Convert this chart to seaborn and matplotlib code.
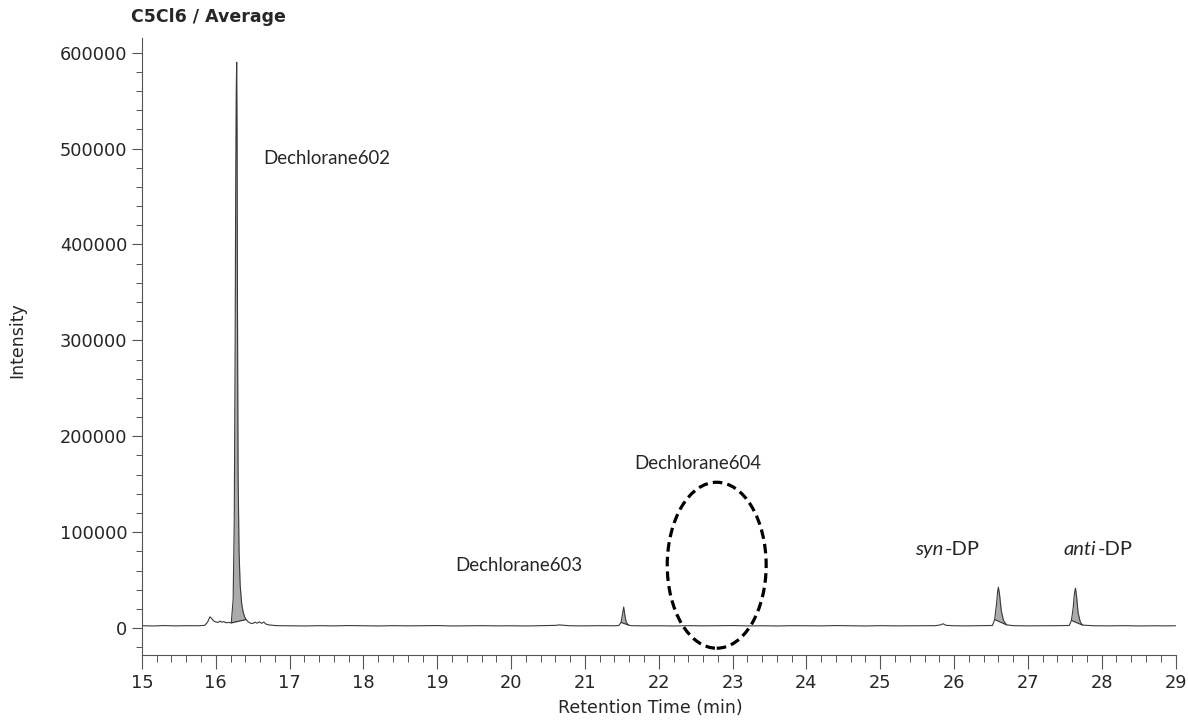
"""
Chromatogram of C5Cl6 (average) - dechloranes and DP isomers
"""

import numpy as np
import pandas as pd
import matplotlib
matplotlib.use("Agg")
import matplotlib.pyplot as plt
from matplotlib.patches import Ellipse
from matplotlib.ticker import MultipleLocator
import seaborn as sns

# Trace (retention time in min, intensity)
rt = [15.00, 15.15, 15.30, 15.45, 15.60, 15.75, 15.85, 15.89, 15.92, 15.94,
      15.97, 16.00, 16.03, 16.06, 16.08, 16.11, 16.14, 16.17, 16.19, 16.21,
      16.235, 16.25, 16.262, 16.270, 16.277, 16.283, 16.288, 16.294, 16.302, 16.315,
      16.33, 16.35, 16.37, 16.39, 16.41,
      16.44, 16.47, 16.50, 16.53, 16.56, 16.59, 16.62, 16.65, 16.68, 16.72,
      16.78, 16.85, 17.00, 17.20, 17.40, 17.60, 17.80, 18.00, 18.20, 18.40,
      18.60, 18.80, 19.00, 19.20, 19.40, 19.60, 19.80, 20.00, 20.20, 20.40,
      20.60, 20.65, 20.80, 21.00, 21.20, 21.40, 21.46,
      21.49, 21.51, 21.525, 21.54, 21.56, 21.59,
      21.63, 21.80, 22.00, 22.20, 22.40, 22.60, 22.80, 23.00, 23.20, 23.40,
      23.60, 23.80, 24.00, 24.20, 24.40, 24.60, 24.80, 25.00, 25.20, 25.40,
      25.60, 25.75, 25.82, 25.85, 25.89, 26.00, 26.20, 26.40, 26.52,
      26.55, 26.575, 26.59, 26.60, 26.615, 26.64, 26.67, 26.71,
      26.80, 27.00, 27.20, 27.40, 27.56,
      27.59, 27.615, 27.63, 27.645, 27.66, 27.68, 27.71, 27.74,
      27.90, 28.10, 28.30, 28.50, 28.70, 28.90, 29.00]

intensity = [2600, 2300, 2700, 2400, 2600, 2500, 2900, 6500, 11800, 10500,
             7500, 6500, 6000, 7400, 6200, 6900, 5600, 6000, 5800, 5500,
             30000, 110000, 290000, 470000, 560000, 590000, 520000, 330000, 160000, 80000,
             45000, 26000, 17000, 12000, 9000,
             6500, 5200, 4800, 6300, 5200, 6600, 5000, 6400, 4200, 3400,
             2900, 2600, 2500, 2300, 2600, 2400, 2700, 2500, 2300, 2600,
             2400, 2500, 2700, 2300, 2500, 2600, 2400, 2500, 2300, 2600,
             2900, 3400, 2500, 2400, 2600, 2500, 2800,
             6000, 15000, 22000, 14000, 6000, 3200,
             2600, 2400, 2500, 2300, 2600, 2400, 2500, 2700, 2400, 2500,
             2300, 2600, 2500, 2400, 2700, 2500, 2300, 2600, 2400, 2500,
             2700, 2600, 3500, 4600, 3000, 2500, 2400, 2600, 2800,
             9000, 25000, 38000, 42700, 36000, 18000, 8000, 3500,
             2600, 2400, 2500, 2600, 2800,
             8000, 22000, 36000, 41700, 33000, 16000, 6500, 3200,
             2500, 2400, 2600, 2300, 2500, 2400, 2500]

# Integrated peak windows (start, end)
peak_start = [16.21, 21.49, 26.55, 27.59]
peak_end = [16.41, 21.59, 26.71, 27.74]

# Labels
labels = ["Dechlorane602", "Dechlorane604", "Dechlorane603"]
label_x = [16.64, 21.67, 19.24]
label_y = [490000, 172000, 65000]
dp_prefix = ["syn", "anti"]
dp_x = [25.47, 27.48]
dp_y = 82000

df = pd.DataFrame({"rt": rt, "intensity": intensity})

sns.set_style("ticks")
plt.rcParams["font.family"] = ["DejaVu Sans"]

fig = plt.figure(figsize=(11.88, 7.21), dpi=100)
ax = fig.add_axes([0.1195, 0.0915, 0.8700, 0.8555])

# Gray filled peaks
x_arr = np.array(rt)
y_arr = np.array(intensity)
for s, e in zip(peak_start, peak_end):
    m = (x_arr >= s) & (x_arr <= e)
    xs = x_arr[m]
    ys = y_arr[m]
    base = np.interp(xs, [xs[0], xs[-1]], [ys[0], ys[-1]])
    ax.fill_between(xs, base, ys, color="#ababab", lw=0)
    ax.plot([xs[0], xs[-1]], [ys[0], ys[-1]], color="#333333", lw=0.8)

sns.lineplot(data=df, x="rt", y="intensity", ax=ax, color="#3a3a3a", linewidth=0.8)

# Dashed ellipse marking where Dechlorane604 should elute
ax.add_patch(Ellipse((22.785, 65600), 1.34, 173000, fill=False,
                     edgecolor="black", lw=2.3, linestyle=(0, (3.0, 1.6))))

ax.set_xlim(15, 29)
ax.set_ylim(-28000, 615000)
ax.xaxis.set_major_locator(MultipleLocator(1))
ax.xaxis.set_minor_locator(MultipleLocator(0.2))
ax.yaxis.set_major_locator(MultipleLocator(100000))
ax.yaxis.set_minor_locator(MultipleLocator(20000))
ax.tick_params(axis="both", which="major", labelsize=12.8, color="#555555", width=0.8)
ax.tick_params(axis="x", which="major", length=10, pad=4)
ax.tick_params(axis="x", which="minor", length=5, color="#555555", width=0.7)
ax.tick_params(axis="y", which="major", length=7)
ax.tick_params(axis="y", which="minor", length=4, color="#555555", width=0.7)
sns.despine(ax=ax, top=True, right=True)
ax.spines["left"].set_color("#555555")
ax.spines["bottom"].set_color("#555555")
ax.set_xlabel("")
ax.set_ylabel("")

ann_font = ["Lato", "DejaVu Sans"]
for t, xx, yy in zip(labels, label_x, label_y):
    ax.text(xx, yy, t, fontsize=13.4, family=ann_font, va="center", ha="left")

# italic prefix followed directly by "-DP"
fig.canvas.draw()
renderer = fig.canvas.get_renderer()
for p, xx in zip(dp_prefix, dp_x):
    it = ax.text(xx, dp_y - 5500, p, fontsize=14.5, family=ann_font, style="italic",
                 va="baseline", ha="left")
    bb = it.get_window_extent(renderer)
    x_end = ax.transData.inverted().transform((bb.x1 + 2, bb.y0))[0]
    ax.text(x_end, dp_y - 5500, "-DP", fontsize=14.5, family=ann_font,
            va="baseline", ha="left")

fig.text(131 / 1188, 1 - 17 / 721, "C5Cl6 / Average", fontsize=12.5, fontweight="bold", va="center", ha="left")
fig.text(17 / 1188, 1 - 340 / 721, "Intensity", fontsize=12.5, rotation=90, va="center", ha="center")
fig.text(650 / 1188, 1 - 708 / 721, "Retention Time (min)", fontsize=12.5, va="center", ha="center")

plt.savefig("out.png", dpi=100)
